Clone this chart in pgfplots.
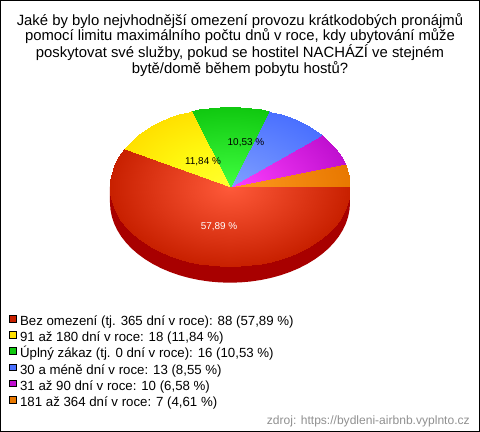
\documentclass[border=0pt]{standalone}
\usepackage{pgfplots}
\pgfplotsset{compat=1.18}
\usepgfplotslibrary{patchplots}
\usepackage{fontspec}
\setmainfont{Liberation Sans}
\definecolor{cR}{RGB}{200,32,0}
\definecolor{cY}{RGB}{255,224,0}
\definecolor{cG}{RGB}{16,200,16}
\definecolor{cB}{RGB}{74,112,255}
\definecolor{cM}{RGB}{192,16,208}
\definecolor{cO}{RGB}{232,120,0}
\pgfplotsset{
 colormap={mR}{rgb255=(200,32,0) rgb255=(255,90,58)},
 colormap={mY}{rgb255=(255,224,0) rgb255=(255,248,16) rgb255=(255,255,48)},
 colormap={mG}{rgb255=(16,200,16) rgb255=(64,255,64)},
 colormap={mB}{rgb255=(74,112,255) rgb255=(128,160,255)},
 colormap={mM}{rgb255=(192,16,208) rgb255=(255,64,255)},
 colormap={mO}{rgb255=(232,120,0) rgb255=(255,154,32)},
 wedge/.style={patch,patch type=triangle,shader=interp,forget plot,point meta=explicit,colormap name=#1},
}
\begin{document}
\begin{tikzpicture}
\begin{axis}[
 scale only axis, width=479bp, height=431bp,
 xmin=-1.9125, xmax=2.0792, ymin=-3.06, ymax=2.3275,
 xtick=\empty, ytick=\empty, axis line style={black,line width=1bp},
 clip=false, point meta min=0, point meta max=1,
 legend cell align=left,
 legend image code/.code={\path[#1,line width=0.8bp] (0bp,0.3bp) rectangle (6.6bp,6.9bp);},
 legend style={at={(rel axis cs:0.0184,0.2703)},anchor=north west,draw=none,fill=none,
   inner sep=0pt,outer sep=0pt,
   font=\fontsize{13.3pt}{14pt}\selectfont,row sep=2.4bp,column sep=3.4bp,
   nodes={inner sep=0pt,outer sep=0pt,text height=9.6bp,text depth=3.4bp}},
]
% side wall
\addplot[fill={rgb,255:red,168;green,0;blue,0},draw=none,forget plot] coordinates {
(1,0)(1,-.2)(.9962,-.2872)(.9848,-.3736)(.9659,-.4588)(.9397,-.5420)(.9063,-.6226)(.8660,-.7)(.8192,-.7736)(.7660,-.8428)(.7071,-.9071)(.6428,-.966)(.5736,-1.0192)(.5,-1.066)(.4226,-1.1063)(.3420,-1.1397)(.2588,-1.1659)(.1736,-1.1848)(.0872,-1.1962)(0,-1.2)
(-.0872,-1.1962)(-.1736,-1.1848)(-.2588,-1.1659)(-.3420,-1.1397)(-.4226,-1.1063)(-.5,-1.066)(-.5736,-1.0192)(-.6428,-.966)(-.7071,-.9071)(-.7660,-.8428)(-.8192,-.7736)(-.8660,-.7)(-.9063,-.6226)(-.9397,-.5420)(-.9659,-.4588)(-.9848,-.3736)(-.9962,-.2872)(-1,-.2)(-1,0)} -- cycle;
% orange 7
\addplot[wedge=mO] coordinates {
(0,0)[1](1,0)[0](.9962,.0872)[0]
(0,0)[1](.9962,.0872)[0](.9848,.1736)[0]
(0,0)[1](.9848,.1736)[0](.9659,.2588)[0]
(0,0)[1](.9659,.2588)[0](.9584,.2853)[0]};
% magenta 10
\addplot[wedge=mM] coordinates {
(0,0)[1](.9584,.2853)[0](.9397,.3420)[0]
(0,0)[1](.9397,.3420)[0](.9063,.4226)[0]
(0,0)[1](.9063,.4226)[0](.8660,.5)[0]
(0,0)[1](.8660,.5)[0](.8192,.5736)[0]
(0,0)[1](.8192,.5736)[0](.7660,.6428)[0]
(0,0)[1](.7660,.6428)[0](.7631,.6463)[0]};
% blue 13
\addplot[wedge=mB] coordinates {
(0,0)[1](.7631,.6463)[0](.7071,.7071)[0]
(0,0)[1](.7071,.7071)[0](.6428,.7660)[0]
(0,0)[1](.6428,.7660)[0](.5736,.8192)[0]
(0,0)[1](.5736,.8192)[0](.5,.8660)[0]
(0,0)[1](.5,.8660)[0](.4226,.9063)[0]
(0,0)[1](.4226,.9063)[0](.3420,.9397)[0]
(0,0)[1](.3420,.9397)[0](.3248,.9458)[0]};
% green 16
\addplot[wedge=mG] coordinates {
(0,0)[1](.3248,.9458)[0](.2588,.9659)[0]
(0,0)[1](.2588,.9659)[0](.1736,.9848)[0]
(0,0)[1](.1736,.9848)[0](.0872,.9962)[0]
(0,0)[1](.0872,.9962)[0](0,1)[0]
(0,0)[1](0,1)[0](-.0872,.9962)[0]
(0,0)[1](-.0872,.9962)[0](-.1736,.9848)[0]
(0,0)[1](-.1736,.9848)[0](-.2588,.9659)[0]
(0,0)[1](-.2588,.9659)[0](-.3248,.9458)[0]};
% yellow 18
\addplot[wedge=mY] coordinates {
(0,0)[1](-.3248,.9458)[0](-.3420,.9397)[0]
(0,0)[1](-.3420,.9397)[0](-.4226,.9063)[0]
(0,0)[1](-.4226,.9063)[0](-.5,.8660)[0]
(0,0)[1](-.5,.8660)[0](-.5736,.8192)[0]
(0,0)[1](-.5736,.8192)[0](-.6428,.7660)[0]
(0,0)[1](-.6428,.7660)[0](-.7071,.7071)[0]
(0,0)[1](-.7071,.7071)[0](-.7660,.6428)[0]
(0,0)[1](-.7660,.6428)[0](-.8192,.5736)[0]
(0,0)[1](-.8192,.5736)[0](-.8660,.5)[0]
(0,0)[1](-.8660,.5)[0](-.8795,.4759)[0]};
% red 88
\addplot[wedge=mR] coordinates {
(0,0)[1](-.8795,.4759)[0](-.9063,.4226)[0]
(0,0)[1](-.9063,.4226)[0](-.9397,.3420)[0]
(0,0)[1](-.9397,.3420)[0](-.9659,.2588)[0]
(0,0)[1](-.9659,.2588)[0](-.9848,.1736)[0]
(0,0)[1](-.9848,.1736)[0](-.9962,.0872)[0]
(0,0)[1](-.9962,.0872)[0](-1,0)[0]
(0,0)[1](-1,0)[0](-.9962,-.0872)[0]
(0,0)[1](-.9962,-.0872)[0](-.9848,-.1736)[0]
(0,0)[1](-.9848,-.1736)[0](-.9659,-.2588)[0]
(0,0)[1](-.9659,-.2588)[0](-.9397,-.3420)[0]
(0,0)[1](-.9397,-.3420)[0](-.9063,-.4226)[0]
(0,0)[1](-.9063,-.4226)[0](-.8660,-.5)[0]
(0,0)[1](-.8660,-.5)[0](-.8192,-.5736)[0]
(0,0)[1](-.8192,-.5736)[0](-.7660,-.6428)[0]
(0,0)[1](-.7660,-.6428)[0](-.7071,-.7071)[0]
(0,0)[1](-.7071,-.7071)[0](-.6428,-.7660)[0]
(0,0)[1](-.6428,-.7660)[0](-.5736,-.8192)[0]
(0,0)[1](-.5736,-.8192)[0](-.5,-.8660)[0]
(0,0)[1](-.5,-.8660)[0](-.4226,-.9063)[0]
(0,0)[1](-.4226,-.9063)[0](-.3420,-.9397)[0]
(0,0)[1](-.3420,-.9397)[0](-.2588,-.9659)[0]
(0,0)[1](-.2588,-.9659)[0](-.1736,-.9848)[0]
(0,0)[1](-.1736,-.9848)[0](-.0872,-.9962)[0]
(0,0)[1](-.0872,-.9962)[0](0,-1)[0]
(0,0)[1](0,-1)[0](.0872,-.9962)[0]
(0,0)[1](.0872,-.9962)[0](.1736,-.9848)[0]
(0,0)[1](.1736,-.9848)[0](.2588,-.9659)[0]
(0,0)[1](.2588,-.9659)[0](.3420,-.9397)[0]
(0,0)[1](.3420,-.9397)[0](.4226,-.9063)[0]
(0,0)[1](.4226,-.9063)[0](.5,-.8660)[0]
(0,0)[1](.5,-.8660)[0](.5736,-.8192)[0]
(0,0)[1](.5736,-.8192)[0](.6428,-.7660)[0]
(0,0)[1](.6428,-.7660)[0](.7071,-.7071)[0]
(0,0)[1](.7071,-.7071)[0](.7660,-.6428)[0]
(0,0)[1](.7660,-.6428)[0](.8192,-.5736)[0]
(0,0)[1](.8192,-.5736)[0](.8660,-.5)[0]
(0,0)[1](.8660,-.5)[0](.9063,-.4226)[0]
(0,0)[1](.9063,-.4226)[0](.9397,-.3420)[0]
(0,0)[1](.9397,-.3420)[0](.9659,-.2588)[0]
(0,0)[1](.9659,-.2588)[0](.9848,-.1736)[0]
(0,0)[1](.9848,-.1736)[0](.9962,-.0872)[0]
(0,0)[1](.9962,-.0872)[0](1,0)[0]};
\addlegendimage{draw=black,fill=cR}\addlegendentry{Bez omezení (tj. 365 dní v roce): 88 (57,89 \%)}
\addlegendimage{draw=black,fill=cY}\addlegendentry{91 až 180 dní v roce: 18 (11,84 \%)}
\addlegendimage{draw=black,fill=cG}\addlegendentry{Úplný zákaz (tj. 0 dní v roce): 16 (10,53 \%)}
\addlegendimage{draw=black,fill=cB}\addlegendentry{30 a méně dní v roce: 13 (8,55 \%)}
\addlegendimage{draw=black,fill=cM}\addlegendentry{31 až 90 dní v roce: 10 (6,58 \%)}
\addlegendimage{draw=black,fill=cO}\addlegendentry{181 až 364 dní v roce: 7 (4,61 \%)}
% title
\node[align=center,anchor=north,inner sep=0pt,font=\fontsize{14.9pt}{15.3pt}\selectfont] at (rel axis cs:0.5,0.9700)
 {Jaké by bylo nejvhodnější omezení provozu krátkodobých pronájmů\\
  pomocí limitu maximálního počtu dnů v roce, kdy ubytování může\\
  poskytovat své služby, pokud se hostitel NACHÁZÍ ve stejném\\
  bytě/domě během pobytu hostů?};
% data labels
\node[white,inner sep=0pt,font=\fontsize{10pt}{12pt}\selectfont] at (rel axis cs:0.4563,0.4745) {57,89 \%};
\node[black,inner sep=0pt,font=\fontsize{10pt}{12pt}\selectfont] at (rel axis cs:0.4228,0.6270) {11,84 \%};
\node[black,inner sep=0pt,font=\fontsize{10pt}{12pt}\selectfont] at (rel axis cs:0.5125,0.6690) {10,53 \%};
% source
\node[anchor=base east,inner sep=0pt,text={rgb,255:red,144;green,144;blue,144},font=\fontsize{12.1pt}{14pt}\selectfont] at (rel axis cs:0.980,0.0174) {zdroj: https://bydleni-airbnb.vyplnto.cz};
\end{axis}
\end{tikzpicture}
\end{document}
